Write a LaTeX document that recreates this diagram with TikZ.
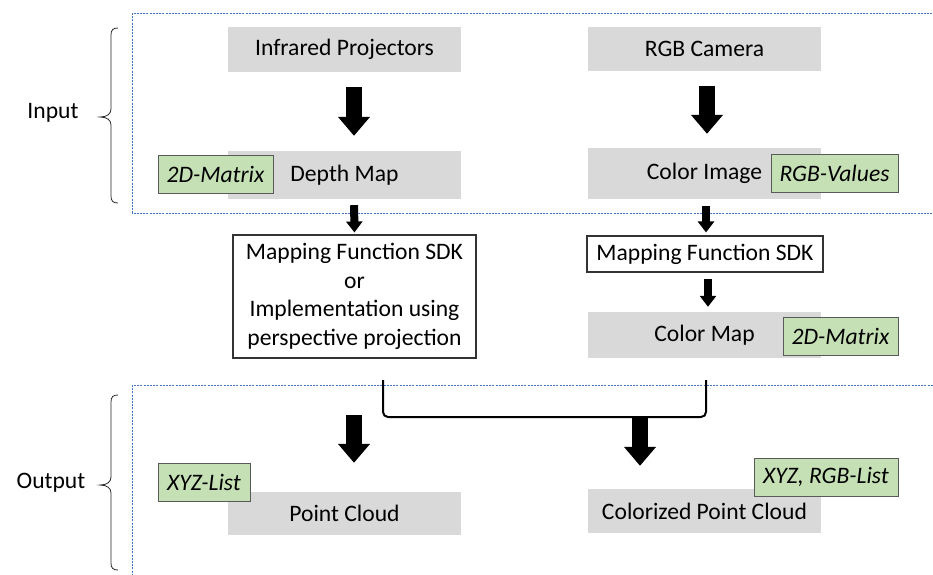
\documentclass[tikz,border=0pt]{standalone}
\usepackage{fontspec}
\setmainfont{Carlito}
\usetikzlibrary{arrows.meta}
\definecolor{boxgray}{HTML}{D9D9D9}
\definecolor{labelgreen}{HTML}{C5E0B4}
\definecolor{labeledge}{HTML}{5A5A5A}
\definecolor{zoneblue}{HTML}{4472C4}
\tikzset{
  every node/.style={font=\fontsize{23.6pt}{28.5pt}\selectfont, text=black},
  graybox/.style={fill=boxgray, minimum width=233pt, minimum height=#1, inner sep=0pt},
  greenlabel/.style={fill=labelgreen, draw=labeledge, line width=0.9pt, minimum height=38pt,
    minimum width=#1, inner sep=0pt, font=\fontsize{23.6pt}{28.5pt}\selectfont\itshape},
  whitebox/.style={draw=black!80, line width=1.1pt, fill=white, inner sep=0pt, align=center},
  zone/.style={draw=zoneblue, line width=0.8pt, dash pattern=on 2pt off 1.2pt},
  bigarrow/.style={line width=15.5pt, -{Triangle[width=31pt,length=19pt]}},
  smallarrow/.style={line width=8pt, -{Triangle[width=16pt,length=11pt]}},
  zonebrace/.style={draw=black!85, line width=0.8pt}
}
% a left curly brace: top end, pointed middle, bottom end
\newcommand{\zonebracepath}[3]{%
  \draw[zonebrace] (118,#1) .. controls (113,#1) and (111,#1+2) .. (111,#1+7)
    -- (111,#2-8) .. controls (111,#2-3) and (107,#2) .. (100,#2)
    .. controls (107,#2) and (111,#2+3) .. (111,#2+8)
    -- (111,#3-7) .. controls (111,#3-2) and (113,#3) .. (118,#3);}
\begin{document}
\begin{tikzpicture}[x=1pt,y=-1pt]
\useasboundingbox (0,0) rectangle (933,574);
\clip (0,0) rectangle (933,574);

% dashed zones
\draw[zone] (132,13) rectangle (945,213);
\draw[zone] (132,385) rectangle (945,590);

% braces and zone titles
\zonebracepath{28}{117}{203}
\zonebracepath{395}{485}{570}
\node (inlbl) at (53,113) {Input};
\node (outlbl) at (51,483) {Output};

% sensor and data boxes
\node[graybox=45pt] (ir) at (344.5,49.5) {Infrared Projectors};
\node[graybox=48pt] (dm) at (344.5,175) {Depth Map};
\node[graybox=44pt] (rgb) at (704.5,49) {RGB Camera};
\node[graybox=51pt] (ci) at (704.5,173.5) {Color Image};
\node[graybox=46pt] (cm) at (704.5,335) {Color Map};
\node[graybox=43pt] (pc) at (344.5,513.5) {Point Cloud};
\node[graybox=44pt] (cpc) at (704.5,511) {Colorized Point Cloud};

% processing steps
\node[whitebox, minimum width=243pt, minimum height=123pt] (map) at (354.5,296.5)
  {Mapping Function SDK\\or\\Implementation using\\perspective projection};
\node[whitebox, minimum width=236pt, minimum height=36pt] (sdk) at (705,254) {Mapping Function SDK};

% data format labels
\node[greenlabel=115pt] (fmtdm) at (215.5,174) {2D-Matrix};
\node[greenlabel=127pt] (fmtci) at (834.5,173) {RGB-Values};
\node[greenlabel=115pt] (fmtcm) at (840.5,336) {2D-Matrix};
\node[greenlabel=92pt] (fmtpc) at (204,482) {XYZ-List};
\node[greenlabel=144pt] (fmtcpc) at (826,477) {XYZ, RGB-List};

% flow arrows
\draw[bigarrow, shorten <=15pt, shorten >=15pt] ([xshift=9.5pt]ir.south) -- ([xshift=9.5pt]dm.north);
\draw[bigarrow, shorten <=15pt, shorten >=14pt] ([xshift=2.5pt]rgb.south) -- ([xshift=2.5pt]ci.north);
\draw[smallarrow, shorten <=6pt, shorten >=2pt] ([xshift=9.5pt]dm.south) -- (map.north);
\draw[smallarrow, shorten <=7pt, shorten >=3pt] ([xshift=1.5pt]ci.south) -- ([xshift=1pt]sdk.north);
\draw[smallarrow, shorten <=6pt, shorten >=5pt] ([xshift=3pt]sdk.south) -- ([xshift=3.5pt]cm.north);

% merging bracket
\coordinate (bl) at (383,380);
\coordinate (br) at (706,380);
\coordinate (join) at (640,417);
\coordinate (pcin) at (354,415);
\draw[line width=2pt, rounded corners=5pt] (bl) |- (join) -| (br);

% output arrows
\draw[bigarrow, shorten >=29pt] (pcin) -- ([xshift=9.5pt]pc.north);
\draw[bigarrow, shorten >=26pt] (join) -- (pc.north -| join);
\end{tikzpicture}
\end{document}
